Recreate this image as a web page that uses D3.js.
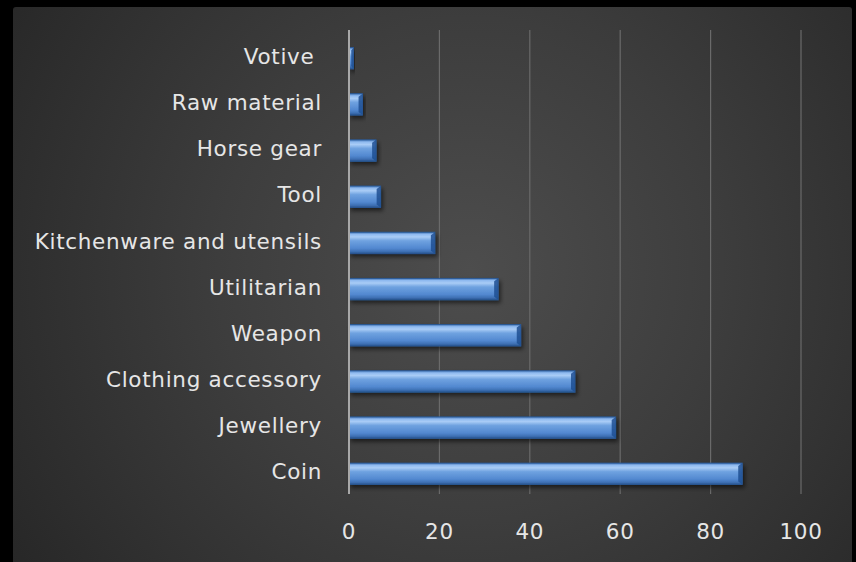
<!DOCTYPE html>
<html>
<head>
<meta charset="utf-8">
<script src="https://cdnjs.cloudflare.com/ajax/libs/d3/7.8.5/d3.min.js"></script>
<style>
  html, body { margin: 0; padding: 0; background: #000; }
  svg { display: block; }
  .lbl { font-family: "DejaVu Sans", sans-serif; fill: #e6e6e6; letter-spacing: 0.7px; white-space: pre; }
</style>
</head>
<body>
<div id="chart"></div>
<script>
// categories top to bottom, and their counts
var categories = ["Votive ", "Raw material", "Horse gear", "Tool", "Kitchenware and utensils",
                  "Utilitarian", "Weapon", "Clothing accessory", "Jewellery", "Coin"];
var counts = [1, 3, 6, 7, 19, 33, 38, 50, 59, 87];
var xTicks = [0, 20, 40, 60, 80, 100];

var data = categories.map(function(c, i) { return {name: c, value: counts[i]}; });

var W = 856, H = 562;
var plot = {left: 349, right: 801, top: 35, bottom: 497};

var svg = d3.select("#chart").append("svg")
    .attr("width", W)
    .attr("height", H);

var defs = svg.append("defs");

// panel background
var bg = defs.append("radialGradient")
    .attr("id", "bg")
    .attr("gradientUnits", "userSpaceOnUse")
    .attr("cx", 470).attr("cy", 270).attr("r", 560);
bg.append("stop").attr("offset", "0%").attr("stop-color", "#4d4d4d");
bg.append("stop").attr("offset", "45%").attr("stop-color", "#3d3d3d");
bg.append("stop").attr("offset", "100%").attr("stop-color", "#262626");

// bevelled bar fill
var bar = defs.append("linearGradient")
    .attr("id", "bar")
    .attr("x1", 0).attr("y1", 0).attr("x2", 0).attr("y2", 1);
[["0%", "#3d6fb0"], ["10%", "#8fbaf0"], ["22%", "#a9ccf6"], ["40%", "#6fa2e0"],
 ["75%", "#5288d0"], ["90%", "#3e70b4"], ["100%", "#27528c"]].forEach(function(s) {
    bar.append("stop").attr("offset", s[0]).attr("stop-color", s[1]);
});

var shadow = defs.append("filter").attr("id", "shadow")
    .attr("x", "-10%").attr("y", "-30%").attr("width", "130%").attr("height", "180%");
shadow.append("feDropShadow")
    .attr("dx", 2).attr("dy", 3).attr("stdDeviation", 2)
    .attr("flood-color", "#000").attr("flood-opacity", 0.55);

svg.append("rect")
    .attr("x", 13).attr("y", 7)
    .attr("width", 839).attr("height", 570)
    .attr("rx", 3)
    .attr("fill", "url(#bg)");

// scales
var x = d3.scaleLinear().domain([0, 100]).range([plot.left, plot.right]);
var y = d3.scaleBand().domain(categories).range([plot.top, plot.bottom]).paddingInner(0.535).paddingOuter(0.27);

// vertical gridlines
svg.append("g")
  .selectAll("line")
  .data(xTicks.slice(1))
  .enter().append("line")
    .attr("x1", function(d) { return x(d); })
    .attr("x2", function(d) { return x(d); })
    .attr("y1", plot.top - 5)
    .attr("y2", plot.bottom - 3)
    .attr("stroke", "#6a6a6a")
    .attr("stroke-width", 1.2);

// bars
var bars = svg.append("g")
  .selectAll("g")
  .data(data)
  .enter().append("g")
    .attr("filter", "url(#shadow)");

bars.append("rect")
    .attr("x", x(0))
    .attr("y", function(d) { return y(d.name); })
    .attr("width", function(d) { return x(d.value) - x(0); })
    .attr("height", y.bandwidth())
    .attr("fill", "url(#bar)")
    .attr("stroke", "#2a5a9a")
    .attr("stroke-width", 0.8);

// right end bevel
bars.append("path")
    .attr("d", function(d) {
        var x1 = x(d.value), y0 = y(d.name), h = y.bandwidth(), b = Math.min(4, (x1 - x(0)) / 2);
        return "M" + (x1 - b) + "," + (y0 + 3) + "L" + x1 + "," + y0 + "L" + x1 + "," + (y0 + h) +
               "L" + (x1 - b) + "," + (y0 + h - 3) + "Z";
    })
    .attr("fill", "#1f4f92")
    .attr("opacity", 0.85);

// axis line at zero
svg.append("line")
    .attr("x1", x(0)).attr("x2", x(0))
    .attr("y1", plot.top - 5).attr("y2", plot.bottom - 3)
    .attr("stroke", "#a8a8a8")
    .attr("stroke-width", 2);

// category labels
svg.append("g")
  .selectAll("text")
  .data(categories)
  .enter().append("text")
    .attr("class", "lbl")
    .attr("x", x(0) - 27)
    .attr("y", function(d) { return y(d) + y.bandwidth() / 2; })
    .attr("dy", "0.26em")
    .attr("text-anchor", "end")
    .attr("font-size", 21.5)
    .text(function(d) { return d; });

// x tick labels
svg.append("g")
  .selectAll("text")
  .data(xTicks)
  .enter().append("text")
    .attr("class", "lbl")
    .attr("x", function(d) { return x(d); })
    .attr("y", 539)
    .attr("text-anchor", "middle")
    .attr("font-size", 21.5)
    .text(function(d) { return d; });
</script>
</body>
</html>
